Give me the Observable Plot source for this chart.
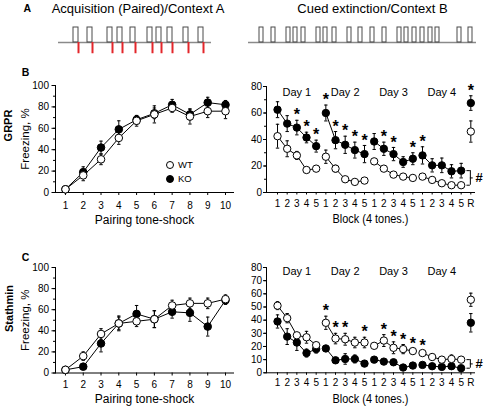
<!DOCTYPE html>
<html><head><meta charset="utf-8">
<script src="https://cdn.jsdelivr.net/npm/d3@7"></script>
<script src="https://cdn.jsdelivr.net/npm/@observablehq/plot@0.6"></script>
<style>
body{margin:0;background:#fff;font-family:Arial,"Liberation Sans",Helvetica,sans-serif;}
#fig{position:relative;width:484px;height:408px;overflow:hidden;background:#fff;}
.lg{position:absolute;font-size:9.5px;line-height:10px;color:#000;}
.lgc{position:absolute;width:6px;height:6px;border:1px solid #000;border-radius:50%;}
</style></head><body><div id="fig"></div>
<script>
// ---------- data ----------
// Panel A schematics (time units)
const acqToneOnsets = [15, 29, 49, 59, 72, 89, 98, 109, 125, 140];
const acqToneDur = 5;
const acqSession = 153;
const extToneOnsets = [11, 23, 38, 45, 53, 68, 75, 84, 99, 110, 122, 134, 149, 156, 164, 172, 180, 187, 209, 220];
const extToneDur = 4;
const extSession = 228;

// Acquisition (pairings)
const pairings = [1, 2, 3, 4, 5, 6, 7, 8, 9, 10];
const grprAcqWT    = [3, 16, 31, 51, 67, 73, 79, 71, 76, 76];
const grprAcqWTErr = [1, 5, 5, 6, 5, 8, 4, 7, 6, 7];
const grprAcqKO    = [3, 19, 42, 59, 68, 74, 82, 73, 84, 82];
const grprAcqKOErr = [1, 5, 6, 8, 4, 5, 5, 5, 5, 4];
const stmAcqWT     = [3, 16, 37, 47, 49, 51, 64, 66, 66, 70];
const stmAcqWTErr  = [1, 4, 5, 6, 5, 8, 5, 5, 5, 4];
const stmAcqKO     = [3, 6, 28, 47, 56, 51, 58, 57, 44, 69];
const stmAcqKOErr  = [1, 2, 8, 7, 8, 8, 6, 8, 9, 4];

// Extinction blocks
const dayNames = ["Day 1", "Day 2", "Day 3", "Day 4"];
const blockLabels = ["1","2","3","4","5","1","2","3","4","5","1","2","3","4","5","1","2","3","4","5","R"];
const blockDays = ["Day 1","Day 1","Day 1","Day 1","Day 1","Day 2","Day 2","Day 2","Day 2","Day 2",
                   "Day 3","Day 3","Day 3","Day 3","Day 3","Day 4","Day 4","Day 4","Day 4","Day 4","R"];
const grprExtWT    = [42.5, 33, 28, 17, 18, 27, 18, 10, 8, 9, 23.5, 18, 13.5, 12, 11, 12, 9.5, 7, 5.5, 5.5, 46];
const grprExtWTErr = [9, 6, 3, 2, 1.5, 5, 2.5, 1.5, 1, 1.5, 2, 1.5, 1.5, 1.5, 1.5, 2, 1.5, 1.5, 1.5, 1.5, 8];
const grprExtKO    = [62.5, 52, 49, 41.5, 35, 60, 39.5, 36, 32, 29, 38.5, 33, 29, 23, 25.5, 28, 20.5, 20.5, 16, 16.5, 67.5];
const grprExtKOErr = [6, 6, 5.5, 4, 4.5, 6, 6.5, 6.5, 6, 6.5, 6, 5, 5, 4, 4.5, 6.5, 5, 5.5, 5, 5.5, 5.5];
const grprStars = [3, 4, 5, 6, 7, 8, 9, 10, 12, 13, 15, 16, 21];   // over KO
const stmExtWT     = [51, 41.5, 28.5, 27, 21, 38, 26, 25.5, 23, 23, 20.5, 24.5, 19, 18, 16.5, 15, 12, 10, 10.5, 10, 55.5];
const stmExtWTErr  = [3, 3.5, 2, 4.5, 2, 5, 4, 4.5, 4, 4, 2, 4.5, 4.5, 3.5, 2, 2, 2, 2, 3, 2, 5];
const stmExtKO     = [39, 27.5, 23, 15, 18, 18.5, 9.5, 10.5, 10.5, 7, 10, 8.5, 8, 4, 5.5, 6, 5, 4.5, 5, 3.5, 38];
const stmExtKOErr  = [5, 6, 6, 3, 3, 2, 2, 4, 3, 2, 1, 1, 1, 1, 1, 1, 1, 1, 1, 1, 7];
const stmStars = [6, 7, 8, 10, 12, 13, 14, 15, 16];                // over WT

const legendKeys = ["WT", "KO"];

// ---------- helpers ----------
const FONT = 'Arial, "Liberation Sans", Helvetica, sans-serif';
const fig = document.getElementById("fig");
function place(node, left, top) {
  node.style.position = "absolute";
  node.style.left = left + "px";
  node.style.top = top + "px";
  fig.appendChild(node);
  return node;
}
const capSym = {draw(ctx) { ctx.moveTo(-1.7, 0); ctx.lineTo(1.7, 0); }};
const baseStyle = (fs) => ({fontFamily: FONT, fontSize: fs, background: "transparent", overflow: "visible", color: "#000"});

function seriesMarks(rows, r) {
  const bars = (key) => [
    Plot.ruleX(rows, {x: "x", y1: d => d[key] - d[key + "E"], y2: d => d[key] + d[key + "E"], stroke: "#000", strokeWidth: 1}),
    Plot.dot(rows, {x: "x", y: d => d[key] + d[key + "E"], symbol: capSym, fill: "none", stroke: "#000", strokeWidth: 1}),
    Plot.dot(rows, {x: "x", y: d => d[key] - d[key + "E"], symbol: capSym, fill: "none", stroke: "#000", strokeWidth: 1})
  ];
  return [
    Plot.line(rows, {x: "x", y: "ko", z: "day", stroke: "#000", strokeWidth: 1}),
    Plot.line(rows, {x: "x", y: "wt", z: "day", stroke: "#000", strokeWidth: 1}),
    ...bars("ko"),
    Plot.dot(rows, {x: "x", y: "ko", r, fill: "#000", stroke: "#000", strokeWidth: 1}),
    ...bars("wt"),
    Plot.dot(rows, {x: "x", y: "wt", r, fill: "#fff", stroke: "#000", strokeWidth: 1})
  ];
}

// ---------- Panel A ----------
function schematic(o) {
  return Plot.plot({
    width: o.width, height: 60, marginLeft: o.ml, marginRight: o.mr, marginTop: 27, marginBottom: 3,
    style: baseStyle("10px"),
    x: {domain: [0, o.session], axis: null},
    y: {domain: [-1, 1], axis: null},
    marks: [
      Plot.ruleY([0], {x1: 0, x2: o.session, stroke: "#8a8a8a", strokeWidth: 1.5}),
      Plot.rect(o.onsets, {x1: d => d, x2: d => d + o.dur, y1: 0, y2: 1, fill: "none", stroke: "#4a4a4a", strokeWidth: 1}),
      o.shock ? Plot.ruleX(o.onsets, {x: d => d + o.dur, y1: 0, y2: -0.75, stroke: "#e3262b", strokeWidth: 2}) : null,
      Plot.text([o.title], {frameAnchor: "top", dx: o.tdx, dy: -18.7, fontSize: 13, textAnchor: "middle", lineAnchor: "middle"}),
      o.letter ? Plot.text([o.letter], {frameAnchor: "top-left", dx: -31.3, dy: -18.7, fontSize: 10.5, fontWeight: "bold", textAnchor: "middle", lineAnchor: "middle"}) : null
    ]
  });
}
place(schematic({width: 240, ml: 58, mr: 29, session: acqSession, onsets: acqToneOnsets, dur: acqToneDur, shock: true,
  title: "Acquisition (Paired)/Context A", tdx: 3, letter: "A"}), 0, 0);
place(schematic({width: 244, ml: 8, mr: 8, session: extSession, onsets: extToneOnsets, dur: extToneDur, shock: false,
  title: "Cued extinction/Context B", tdx: 10}), 240, 0);

// ---------- acquisition panels ----------
function acqPanel(o) {
  const rows = pairings.map((p, i) => ({x: p, day: "acq", wt: o.wt[i], wtE: o.wtErr[i], ko: o.ko[i], koE: o.koErr[i]}));
  return Plot.plot({
    width: 240, height: o.height, marginLeft: 55, marginRight: 7, marginTop: 15, marginBottom: o.mb,
    style: baseStyle("10px"),
    x: {domain: [0.44, 10.45]},
    y: {domain: [0, 100]},
    marks: [
      Plot.axisY({ticks: d3.range(0, 101, 10), tickSize: 2, tickFormat: () => "", label: null}),
      Plot.axisY({ticks: d3.range(0, 101, 20), tickSize: 3.5, tickPadding: 3, label: null}),
      Plot.axisX({ticks: pairings, tickSize: 3, tickPadding: o.tp, label: null}),
      Plot.frame({anchor: "left", stroke: "#000"}),
      Plot.frame({anchor: "bottom", stroke: "#000"}),
      Plot.text(["Pairing tone-shock"], {frameAnchor: "bottom", dy: o.titleDy, fontSize: 12, textAnchor: "middle", lineAnchor: "middle"}),
      Plot.text(["Freezing, %"], {frameAnchor: "left", dx: -30, rotate: -90, fontSize: 11.5, textAnchor: "middle", lineAnchor: "middle"}),
      Plot.text([o.gene], {frameAnchor: "left", dx: o.geneDx, dy: o.geneDy, rotate: -90, fontSize: 11, fontWeight: "bold", textAnchor: "middle", lineAnchor: "middle"}),
      Plot.text([o.letter], {frameAnchor: "top-left", dx: -30, dy: o.letterDy, fontSize: 10.5, fontWeight: "bold", textAnchor: "middle", lineAnchor: "middle"}),
      ...seriesMarks(rows, 3.8)
    ]
  });
}

// ---------- extinction panels ----------
function extPanel(o) {
  const rows = blockLabels.map((lab, i) => ({x: i + 1, day: blockDays[i], wt: o.wt[i], wtE: o.wtErr[i], ko: o.ko[i], koE: o.koErr[i]}));
  const starRows = rows.filter(d => o.stars.includes(d.x));
  const dayRows = dayNames.map(name => ({name, x: d3.mean(rows.filter(r => r.day === name), r => r.x)}));
  const lastDay = rows.filter(d => d.day === dayNames[dayNames.length - 1]);
  const last = lastDay[lastDay.length - 1];
  const lo = Math.min(last.wt, last.ko), hi = Math.max(last.wt, last.ko), mid = (lo + hi) / 2;
  const bx = last.x + 0.95;
  const svg = Plot.plot({
    width: 244, height: o.height, marginLeft: 26, marginRight: 10, marginTop: o.mt, marginBottom: o.mb,
    style: baseStyle("10px"),
    x: {domain: [-0.14, 21.38]},
    y: {domain: [0, 80]},
    marks: [
      Plot.axisY({ticks: d3.range(0, 81, 10), tickSize: 2, tickFormat: () => "", label: null}),
      Plot.axisY({ticks: o.yTicks, tickSize: 3, tickPadding: 1.5, label: null}),
      Plot.axisX({ticks: rows.map(d => d.x), tickFormat: d => blockLabels[d - 1], tickSize: 2.5, tickPadding: o.tp, label: null}),
      Plot.frame({anchor: "left", stroke: "#000"}),
      Plot.frame({anchor: "bottom", stroke: "#000"}),
      Plot.text(["Block (4 tones.)"], {frameAnchor: "bottom", dy: o.titleDy, fontSize: 12, textAnchor: "middle", lineAnchor: "middle"}),
      Plot.text(dayRows, {x: "x", text: "name", frameAnchor: "top", dy: o.dayDy, fontSize: 11, textAnchor: "middle", lineAnchor: "middle"}),
      ...seriesMarks(rows, 3.7),
      Plot.text(starRows, {x: "x", y: d => d[o.starOn] + d[o.starOn + "E"], text: () => "*", dy: -5, fontSize: 16, fontWeight: "bold", lineAnchor: "middle"}),
      Plot.ruleX([bx], {y1: lo, y2: hi, stroke: "#000"}),
      Plot.ruleY([lo, hi], {x1: bx - 0.35, x2: bx, stroke: "#000"}),
      Plot.ruleY([mid], {x1: bx, x2: bx + 0.3, stroke: "#000"}),
      Plot.text(["#"], {x: bx + 0.9, y: mid, fontSize: 13, fontWeight: "bold", lineAnchor: "middle"})
    ]
  });
  svg.querySelectorAll("text").forEach(t => {
    if (t.textContent === "Block (4 tones.)") { t.setAttribute("textLength", 76); t.setAttribute("lengthAdjust", "spacingAndGlyphs"); }
  });
  return svg;
}

place(acqPanel({wt: grprAcqWT, wtErr: grprAcqWTErr, ko: grprAcqKO, koErr: grprAcqKOErr, height: 160, mb: 38, tp: 6,
  titleDy: 28, gene: "GRPR", geneDx: -46.7, geneDy: -13.5, letter: "B", letterDy: -13.3}), 0, 70);
place(extPanel({wt: grprExtWT, wtErr: grprExtWTErr, ko: grprExtKO, koErr: grprExtKOErr, height: 160, mt: 16, mb: 38, tp: 5,
  titleDy: 27, dayDy: 5.5, yTicks: d3.range(0, 81, 20), stars: grprStars, starOn: "ko"}), 240, 70);
place(acqPanel({wt: stmAcqWT, wtErr: stmAcqWTErr, ko: stmAcqKO, koErr: stmAcqKOErr, height: 156, mb: 35.5, tp: 4.5,
  titleDy: 25.8, gene: "Stathmin", geneDx: -46, geneDy: -11.8, letter: "C", letterDy: -10.3}), 0, 252);
place(extPanel({wt: stmExtWT, wtErr: stmExtWTErr, ko: stmExtKO, koErr: stmExtKOErr, height: 156, mt: 15, mb: 35.7, tp: 4,
  titleDy: 26.5, dayDy: 3.5, yTicks: d3.range(0, 81, 10), stars: stmStars, starOn: "wt"}), 240, 252);

// ---------- legend (panel B, left) ----------
legendKeys.forEach((k, i) => {
  const c = document.createElement("div");
  c.className = "lgc";
  c.style.background = k === "WT" ? "#fff" : "#000";
  place(c, 166, 161 + i * 14);
  const t = document.createElement("div");
  t.className = "lg";
  t.textContent = k;
  place(t, 178, 160 + i * 14);
});
</script></body></html>
